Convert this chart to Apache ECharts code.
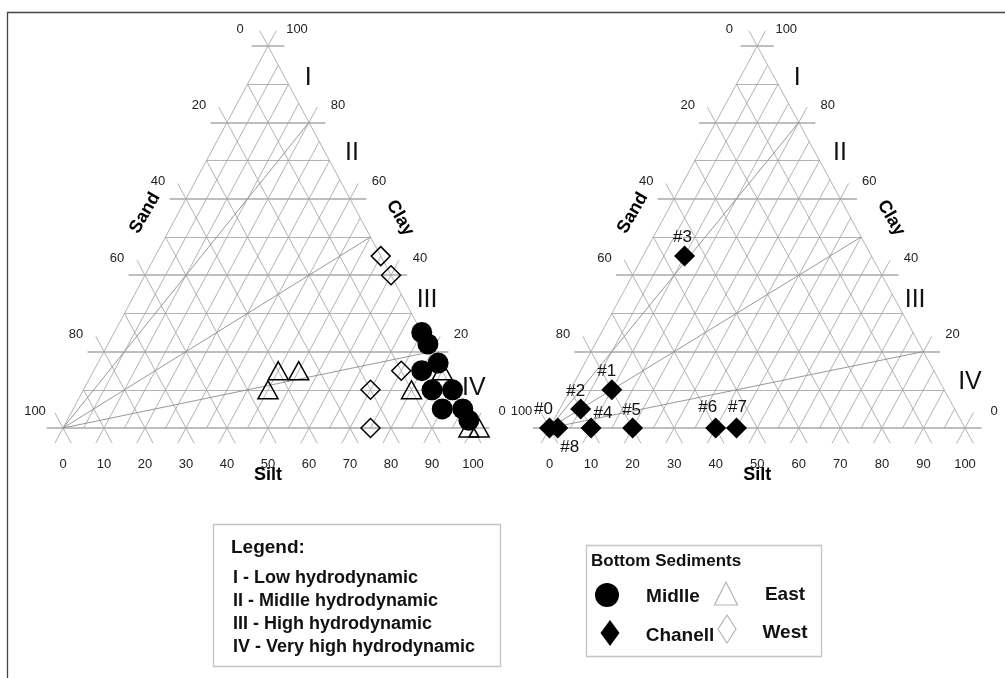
<!DOCTYPE html>
<html><head><meta charset="utf-8">
<script src="https://cdn.jsdelivr.net/npm/echarts@6/dist/echarts.min.js"></script>
<style>html,body{margin:0;padding:0;background:#fff}#c{width:1005px;height:678px}</style>
</head><body><div id="c"></div>
<script>
// ---------------- data ----------------
const siltTicks = [0,10,20,30,40,50,60,70,80,90,100];   // bottom axis labels
const edgeTicks = [0,20,40,60,80,100];                   // Sand / Clay edge labels
const zoneNames = ['I','II','III','IV'];
const zoneBoundaryClay = [80,50,20];                     // zone lines end on right edge at these clay %

// left diagram: Bottom sediments
const middleSilt = [75,78,83,80,85,90,90,95,98];
const middleClay = [25,22,17,15,10,10,5,5,2];
const eastSilt   = [45,50,45,80,85,99,101.5];
const eastClay   = [15,15,10,10,15,0,0];
const westSilt   = [55,60,75,70,75];
const westClay   = [45,40,15,10,0];

// right diagram: Chanell stations
const chanellNames = ['#0','#1','#2','#3','#4','#5','#6','#7','#8'];
const chanellSilt  = [0,10,5,10,10,20,40,45,2];
const chanellClay  = [0,10,5,45,0,0,0,0,0];

// ---------------- layout / style ----------------
const FONT = 'Liberation Sans';
const GRIDS = [
  {left: 63, top: 46, width: 410, height: 382},
  {left: 549.5, top: 46, width: 415.5, height: 382}
];
const TICK = 4;            // tick extension (clay units)
const SILT_STEP = 5;       // density of the "/" grid family
const chanellLabelOffset = {'#0':[-6,-19],'#1':[-5,-18],'#2':[-5,-18],'#3':[-2,-19],'#4':[12,-15],
  '#5':[-1,-18],'#6':[-8,-21],'#7':[1,-21],'#8':[12,19]};
const zoneAnchor = [[59.8,91.6],[70.5,72],[88.8,33.5],[100.2,10.5]];
const zoneAnchorR = [[59.6,91.6],[69.9,72],[88,33.5],[101.2,12]];
const titleAnchor = {Sand:[20,56.3], Clay:[82.2,55], Silt:[50,-12.4]};

// ternary (silt, clay) -> cartesian (x, y) in data units of the hidden axes
function tern(silt, clay){ return [silt + clay/2, clay]; }

function gridSegments(){
  const minor = [], major = [];
  siltTicks.forEach(c => {
    const a = [c/2, c], b = [100 - c/2, c];
    if (c % 20 === 0) major.push({coords:[[a[0]-TICK, c],[b[0]+TICK, c]]});
    else minor.push({coords:[a,b]});
  });
  for (let s = 0; s <= 100; s += SILT_STEP){
    let p0 = [s, 0], p1 = [s + (100 - s)/2, 100 - s];
    if (s % 10 === 0) p0 = [s - TICK/2, -TICK];
    if (s % 20 === 0) p1 = [p1[0] + TICK/2, p1[1] + TICK];
    minor.push({coords:[p0,p1]});
  }
  siltTicks.forEach(a => {
    const c = 100 - a;
    const p0 = [100 - a + TICK/2, -TICK];
    let p1 = [c/2, c];
    if (a % 20 === 0) p1 = [c/2 - TICK/2, c + TICK];
    minor.push({coords:[p0,p1]});
  });
  const zones = zoneBoundaryClay.map(c => ({coords:[[0,0], tern(100 - c, c)]}));
  return {minor, major, zones};
}

function triangleSeries(k){
  const g = gridSegments();
  const base = {xAxisIndex:k, yAxisIndex:k, silent:true};
  const op = {itemStyle:{opacity:1}};
  const out = [];
  out.push(Object.assign({type:'lines', coordinateSystem:'cartesian2d', clip:false, z:1,
    lineStyle:{color:'#a0a0a0', width:0.8, opacity:1}, data:g.minor}, base));
  out.push(Object.assign({type:'lines', coordinateSystem:'cartesian2d', clip:false, z:1,
    lineStyle:{color:'#a8a8a8', width:1.7, opacity:1}, data:g.major}, base));
  out.push(Object.assign({type:'lines', coordinateSystem:'cartesian2d', clip:false, z:2,
    lineStyle:{color:'#8c8c8c', width:0.9, opacity:1}, data:g.zones}, base));
  // edge labels
  const lbl = {show:true, position:'inside', color:'#222', fontSize:13, fontFamily:FONT, formatter:'{b}'};
  out.push(Object.assign({type:'scatter', symbolSize:0, clip:false, z:5,
    label:Object.assign({}, lbl, {offset:[-28,-17]}),
    data: edgeTicks.map(a => ({name:String(a), value:[(100-a)/2, 100-a]}))}, base, op));
  out.push(Object.assign({type:'scatter', symbolSize:0, clip:false, z:5,
    label:Object.assign({}, lbl, {offset:[29,-17]}),
    data: edgeTicks.map(c => ({name:String(c), value:[100 - c/2, c]}))}, base, op));
  // zone names
  const za = k === 0 ? zoneAnchor : zoneAnchorR;
  out.push(Object.assign({type:'scatter', symbolSize:0, clip:false, z:5,
    label:{show:true, position:'inside', color:'#111', fontSize:25, fontFamily:FONT, formatter:'{b}'},
    data: zoneNames.map((n,i) => ({name:n, value:za[i]}))}, base, op));
  // Sand / Clay / Silt titles
  const tl = {show:true, position:'inside', color:'#000', fontSize:18, fontWeight:'bold', fontFamily:FONT, formatter:'{b}'};
  out.push(Object.assign({type:'scatter', symbolSize:0, clip:false, z:5,
    data:[{name:'Sand', value:titleAnchor.Sand, label:Object.assign({}, tl, {rotate:60})},
          {name:'Clay', value:titleAnchor.Clay, label:Object.assign({}, tl, {rotate:-60})},
          {name:'Silt', value:titleAnchor.Silt, label:tl}]}, base, op));
  return out;
}

const series = [].concat(triangleSeries(0), triangleSeries(1));
series.push({type:'scatter', name:'East', xAxisIndex:0, yAxisIndex:0, clip:false, z:6, silent:true,
  symbol:'triangle', symbolSize:[20,18],
  itemStyle:{color:'rgba(255,255,255,0)', borderColor:'#000', borderWidth:1.5, opacity:1},
  data: eastSilt.map((s,i) => tern(s, eastClay[i]))});
series.push({type:'scatter', name:'West', xAxisIndex:0, yAxisIndex:0, clip:false, z:6, silent:true,
  symbol:'diamond', symbolSize:[19,19],
  itemStyle:{color:'rgba(255,255,255,0)', borderColor:'#000', borderWidth:1.5, opacity:1},
  data: westSilt.map((s,i) => tern(s, westClay[i]))});
series.push({type:'scatter', name:'Midlle', xAxisIndex:0, yAxisIndex:0, clip:false, z:7, silent:true,
  symbol:'circle', symbolSize:21, itemStyle:{color:'#000', opacity:1},
  data: middleSilt.map((s,i) => tern(s, middleClay[i]))});
series.push({type:'scatter', name:'Chanell', xAxisIndex:1, yAxisIndex:1, clip:false, z:7, silent:true,
  symbol:'diamond', symbolSize:21, itemStyle:{color:'#000', opacity:1},
  label:{show:true, position:'inside', color:'#111', fontSize:17, fontFamily:FONT, formatter:'{b}'},
  data: chanellNames.map((n,i) => ({name:n, value:tern(chanellSilt[i], chanellClay[i]),
    label:{offset: chanellLabelOffset[n]}}))});

function txt(t, x, y, size, bold, align){
  return {type:'text', z:10, silent:true, style:{text:t, x:x, y:y, font:(bold?'bold ':'')+size+'px "'+FONT+'"',
    fill:'#111', textAlign:align||'left', textVerticalAlign:'middle', align:align||'left', verticalAlign:'middle'}};
}

const graphic = [
  {type:'rect', silent:true, z:0, shape:{x:7.5, y:12.5, width:1200, height:1000}, style:{fill:'none', stroke:'#444', lineWidth:1.3}},
  {type:'rect', silent:true, z:9, shape:{x:213.5, y:524.5, width:287, height:142}, style:{fill:'#fff', stroke:'#c4c4c4', lineWidth:1.3}},
  txt('Legend:', 231, 548, 19, true),
  txt('I - Low hydrodynamic', 233, 578, 18, true),
  txt('II - Midlle hydrodynamic', 233, 601, 18, true),
  txt('III - High hydrodynamic', 233, 624, 18, true),
  txt('IV - Very high hydrodynamic', 233, 647, 18, true),
  {type:'rect', silent:true, z:9, shape:{x:586.5, y:545.5, width:235, height:111}, style:{fill:'#fff', stroke:'#c4c4c4', lineWidth:1.3}},
  txt('Bottom Sediments', 591, 561, 17, true),
  {type:'circle', silent:true, z:10, shape:{cx:607, cy:595, r:12}, style:{fill:'#000'}},
  txt('Midlle', 673, 597, 19, true, 'center'),
  {type:'polygon', silent:true, z:10, shape:{points:[[726,582],[737.5,605],[714.5,605]]}, style:{fill:'#fff', stroke:'#b5b5b5', lineWidth:1.2}},
  txt('East', 785, 595, 19, true, 'center'),
  {type:'polygon', silent:true, z:10, shape:{points:[[610,620],[619.5,633],[610,646],[600.5,633]]}, style:{fill:'#000'}},
  txt('Chanell', 680, 636, 19, true, 'center'),
  {type:'polygon', silent:true, z:10, shape:{points:[[727,615],[736,629],[727,643],[718,629]]}, style:{fill:'#fff', stroke:'#b5b5b5', lineWidth:1.2}},
  txt('West', 785, 633, 19, true, 'center')
];

const option = {
  animation:false,
  backgroundColor:'#fff',
  grid: GRIDS.map(g => Object.assign({containLabel:false}, g)),
  xAxis: GRIDS.map((g,k) => ({gridIndex:k, type:'value', min:0, max:100, interval:10,
    axisLine:{show:false}, axisTick:{show:false}, splitLine:{show:false},
    axisLabel:{show:true, margin:30, fontSize:13, color:'#222', fontFamily:FONT, showMinLabel:true, showMaxLabel:true}})),
  yAxis: GRIDS.map((g,k) => ({gridIndex:k, type:'value', min:0, max:100, show:false})),
  series: series,
  graphic: graphic
};
const chart = echarts.init(document.getElementById('c'));
chart.setOption(option);
</script>
</body></html>
